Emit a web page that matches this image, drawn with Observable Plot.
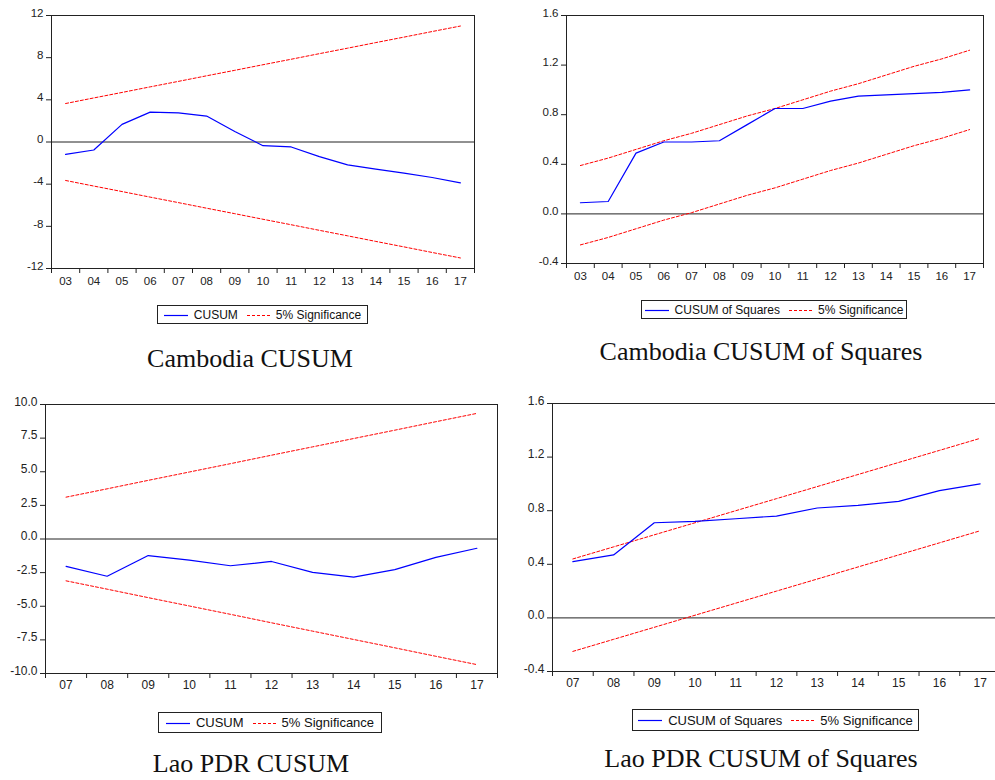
<!DOCTYPE html>
<html>
<head>
<meta charset="utf-8">
<script src="https://cdn.jsdelivr.net/npm/d3@7"></script>
<script src="https://cdn.jsdelivr.net/npm/@observablehq/plot@0.6"></script>
<style>
  html, body { margin: 0; padding: 0; background: #fff; overflow: hidden; }
  #page { position: relative; width: 995px; height: 780px; overflow: hidden; background: #fff; }
  .panel { position: absolute; }
  .legend {
    position: absolute; box-sizing: border-box; border: 1px solid #222;
    display: flex; align-items: center; justify-content: center;
    font-family: "Liberation Sans", Arial, sans-serif; color: #111; background: #fff;
    white-space: nowrap;
  }
  .legend svg { display: block; }
  .caption {
    position: absolute; transform: translateX(-50%);
    font-family: "Liberation Serif", "Times New Roman", serif; font-size: 26px; color: #111;
    white-space: nowrap; line-height: 1;
  }
</style>
</head>
<body>
<div id="page"></div>
<script>
// ---------------- DATA ----------------
const cambodiaYears = [2003, 2004, 2005, 2006, 2007, 2008, 2009, 2010, 2011, 2012, 2013, 2014, 2015, 2016, 2017];
const laoYears = [2007, 2008, 2009, 2010, 2011, 2012, 2013, 2014, 2015, 2016, 2017];

// Cambodia CUSUM
const cambodiaCusum = [-1.17, -0.76, 1.67, 2.83, 2.77, 2.46, 1.0, -0.35, -0.47, -1.39, -2.17, -2.58, -2.96, -3.37, -3.87];
const cambodiaCusumUpper = [3.65, 4.18, 4.70, 5.23, 5.75, 6.28, 6.80, 7.33, 7.85, 8.38, 8.90, 9.43, 9.95, 10.48, 11.00];
const cambodiaCusumLower = [-3.65, -4.18, -4.70, -5.23, -5.75, -6.28, -6.80, -7.33, -7.85, -8.38, -8.90, -9.43, -9.95, -10.48, -11.00];

// Cambodia CUSUM of Squares
const cambodiaCusumSq = [0.09, 0.10, 0.49, 0.58, 0.58, 0.59, 0.72, 0.85, 0.85, 0.91, 0.95, 0.96, 0.97, 0.98, 1.00];
const cambodiaCusumSqUpper = [0.39, 0.45, 0.52, 0.59, 0.65, 0.72, 0.79, 0.85, 0.92, 0.99, 1.05, 1.12, 1.19, 1.25, 1.32];
const cambodiaCusumSqLower = [-0.25, -0.19, -0.12, -0.05, 0.01, 0.08, 0.15, 0.21, 0.28, 0.35, 0.41, 0.48, 0.55, 0.61, 0.68];

// Lao PDR CUSUM
const laoCusum = [-2.03, -2.77, -1.23, -1.57, -1.99, -1.67, -2.48, -2.84, -2.28, -1.37, -0.69];
const laoCusumUpper = [3.11, 3.73, 4.36, 4.98, 5.60, 6.23, 6.85, 7.47, 8.09, 8.72, 9.34];
const laoCusumLower = [-3.11, -3.73, -4.36, -4.98, -5.60, -6.23, -6.85, -7.47, -8.09, -8.72, -9.34];

// Lao PDR CUSUM of Squares
const laoCusumSq = [0.42, 0.47, 0.71, 0.72, 0.74, 0.76, 0.82, 0.84, 0.87, 0.95, 1.00];
const laoCusumSqUpper = [0.44, 0.53, 0.62, 0.71, 0.80, 0.89, 0.98, 1.07, 1.16, 1.25, 1.34];
const laoCusumSqLower = [-0.25, -0.16, -0.07, 0.02, 0.11, 0.20, 0.29, 0.38, 0.47, 0.56, 0.65];

// Tick values
const cusumTicksCambodia = [-12, -8, -4, 0, 4, 8, 12];
const cusumSqTicks = [-0.4, 0.0, 0.4, 0.8, 1.2, 1.6];
const cusumTicksLao = [-10, -7.5, -5, -2.5, 0, 2.5, 5, 7.5, 10];

// Labels
const captions = ["Cambodia CUSUM", "Cambodia CUSUM of Squares", "Lao PDR CUSUM", "Lao PDR CUSUM of Squares"];
const statLabels = ["CUSUM", "CUSUM of Squares", "CUSUM", "CUSUM of Squares"];
const bandLabel = "5% Significance";

// ---------------- DRAW ----------------
const BLUE = "#0000ff", RED = "#ff0000";

function panel(o) {
  const {years, stat, upper, lower, yDomain, yTicks, yFmt, width, height, m, fs, xPad} = o;
  const rows = years.map((y, i) => ({year: y, stat: stat[i], upper: upper[i], lower: lower[i]}));
  const edges = d3.range(years[0] - 0.5, years[years.length - 1] + 1, 1);
  return Plot.plot({
    width, height,
    marginLeft: m[3], marginRight: m[1], marginTop: m[0], marginBottom: m[2],
    style: {fontFamily: '"Liberation Sans", Arial, sans-serif', fontSize: fs + "px", color: "#222", background: "transparent", overflow: "visible"},
    x: {domain: [years[0] - 0.5, years[years.length - 1] + 0.5]},
    y: {domain: yDomain},
    marks: [
      Plot.ruleY([0], {stroke: "#222", strokeWidth: 1}),
      Plot.lineY(rows, {x: "year", y: "upper", stroke: RED, strokeWidth: 1, strokeDasharray: "3,2"}),
      Plot.lineY(rows, {x: "year", y: "lower", stroke: RED, strokeWidth: 1, strokeDasharray: "3,2"}),
      Plot.lineY(rows, {x: "year", y: "stat", stroke: BLUE, strokeWidth: 1.2}),
      Plot.axisX({ticks: years, tickSize: 0, tickPadding: xPad, tickFormat: d => String(d % 100).padStart(2, "0"), label: null, fill: "#222"}),
      Plot.axisX({ticks: edges, tickSize: 5, tickFormat: () => "", label: null, stroke: "#222"}),
      Plot.axisY({ticks: yTicks, tickSize: 5, tickFormat: () => "", label: null, stroke: "#222"}),
      Plot.axisY({ticks: yTicks, tickSize: 0, tickPadding: 8, tickFormat: yFmt, label: null, dy: -2.5, fill: "#222"}),
      Plot.frame({stroke: "#222", strokeWidth: 1})
    ]
  });
}

const page = document.getElementById("page");
const fmtInt = d => d3.format("d")(d).replace("\u2212", "-");
const fmt1 = d => d3.format(".1f")(d).replace("\u2212", "-");

const panels = [
  {pos: [0, 0], years: cambodiaYears, stat: cambodiaCusum, upper: cambodiaCusumUpper, lower: cambodiaCusumLower,
   yDomain: [-12, 12], yTicks: cusumTicksCambodia, yFmt: fmtInt, width: 490, height: 295, m: [15, 16, 27, 51], fs: 11.5, xPad: 8.5},
  {pos: [500, 0], years: cambodiaYears, stat: cambodiaCusumSq, upper: cambodiaCusumSqUpper, lower: cambodiaCusumSqLower,
   yDomain: [-0.4, 1.6], yTicks: cusumSqTicks, yFmt: fmt1, width: 495, height: 295, m: [15, 12, 32, 66], fs: 11.5, xPad: 8.5},
  {pos: [0, 390], years: laoYears, stat: laoCusum, upper: laoCusumUpper, lower: laoCusumLower,
   yDomain: [-10, 10], yTicks: cusumTicksLao, yFmt: fmt1, width: 500, height: 310, m: [14, 3, 27, 45], fs: 12, xPad: 7},
  {pos: [500, 390], years: laoYears, stat: laoCusumSq, upper: laoCusumSqUpper, lower: laoCusumSqLower,
   yDomain: [-0.4, 1.6], yTicks: cusumSqTicks, yFmt: fmt1, width: 500, height: 310, m: [13, 0, 29, 52], fs: 12, xPad: 7}
];

panels.forEach(p => {
  const svg = panel(p);
  svg.classList.add("panel");
  svg.style.left = p.pos[0] + "px";
  svg.style.top = p.pos[1] + "px";
  svg.style.maxWidth = "none";
  page.appendChild(svg);
});

// Legends
const legendBoxes = [
  {left: 157, top: 305, width: 211, height: 19, fs: 12},
  {left: 641, top: 300, width: 266, height: 19, fs: 12},
  {left: 158, top: 712, width: 224, height: 21, fs: 13},
  {left: 632, top: 709, width: 287, height: 22, fs: 13}
];
function sample(color, dash) {
  return `<svg width="24" height="8"><line x1="0" y1="4.5" x2="24" y2="4.5" stroke="${color}" stroke-width="1.2" ${dash ? 'stroke-dasharray="3,2"' : ""}/></svg>`;
}
legendBoxes.forEach((b, i) => {
  const d = document.createElement("div");
  d.className = "legend";
  Object.assign(d.style, {left: b.left + "px", top: b.top + "px", width: b.width + "px", height: b.height + "px", fontSize: b.fs + "px"});
  d.innerHTML = `${sample(BLUE, false)}<span style="margin-left:6px">${statLabels[i]}</span>` +
                `<span style="width:9px;display:inline-block"></span>${sample(RED, true)}<span style="margin-left:5px">${bandLabel}</span>`;
  page.appendChild(d);
});

// Captions (positioned by their centre and top)
const captionPos = [[250, 346], [761, 339], [251, 751], [761, 746]];
captions.forEach((c, i) => {
  const d = document.createElement("div");
  d.className = "caption";
  d.textContent = c;
  d.style.left = captionPos[i][0] + "px";
  d.style.top = captionPos[i][1] + "px";
  page.appendChild(d);
});
</script>
</body>
</html>
